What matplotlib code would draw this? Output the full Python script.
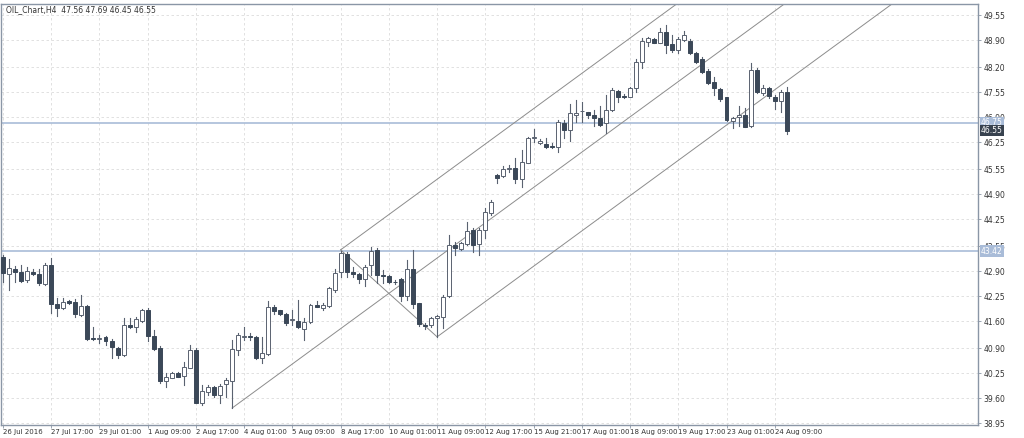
import matplotlib
matplotlib.use("Agg")
import matplotlib.pyplot as plt
from matplotlib.patches import Rectangle

# Candles H4 (open, high, low, close)
opens = [43.26, 42.82, 42.95, 42.87, 42.67, 42.87, 42.82, 42.56, 43.06, 42.04,
         41.94, 42.12, 42.09, 41.76, 41.99, 41.16, 41.14, 41.19, 41.08, 40.90,
         40.72, 41.50, 41.45, 41.60, 41.89, 41.21, 40.90, 40.04, 40.12, 40.25,
         40.17, 40.38, 40.85, 39.47, 39.75, 39.89, 39.68, 39.96, 40.04, 40.85,
         41.19, 41.21, 41.19, 40.64, 40.74, 41.96, 41.88, 41.78, 41.63, 41.60,
         41.40, 41.58, 42.02, 41.94, 41.99, 42.41, 42.87, 43.34, 42.87, 42.82,
         42.69, 43.06, 43.45, 42.80, 42.77, 42.62, 42.69, 42.25, 42.95, 42.07,
         41.50, 41.50, 41.68, 41.71, 42.25, 43.58, 43.47, 43.60, 43.97, 43.60,
         43.97, 44.41, 45.40, 45.37, 45.55, 45.58, 45.29, 45.71, 46.35, 46.22,
         46.20, 46.15, 46.12, 46.74, 46.56, 46.95, 47.05, 47.03, 46.95, 46.87,
         46.74, 47.08, 47.58, 47.44, 47.42, 47.65, 48.33, 48.85, 48.93, 48.83,
         49.11, 48.80, 48.64, 48.90, 48.87, 48.56, 48.41, 48.10, 47.81, 47.63,
         47.42, 46.80, 46.90, 46.95, 46.66, 48.12, 47.52, 47.65, 47.42, 47.31,
         47.56]
highs = [43.32, 43.21, 43.03, 43.06, 43.00, 42.95, 42.95, 43.11, 43.24, 42.20,
         42.20, 42.15, 42.17, 42.28, 42.02, 41.45, 41.24, 41.21, 41.13, 40.93,
         41.68, 41.68, 41.71, 41.91, 41.94, 41.37, 40.95, 40.25, 40.28, 40.28,
         40.54, 40.98, 40.90, 39.94, 39.94, 39.91, 39.96, 40.12, 41.11, 41.29,
         41.45, 41.29, 41.21, 41.19, 42.12, 42.02, 41.88, 41.81, 41.88, 42.15,
         41.68, 42.04, 42.12, 42.07, 42.48, 42.95, 43.42, 43.39, 43.00, 42.85,
         43.06, 43.52, 43.50, 42.93, 42.80, 42.67, 42.72, 43.19, 43.45, 42.07,
         41.55, 41.71, 41.76, 42.28, 43.84, 43.65, 43.65, 44.17, 44.02, 44.02,
         44.54, 44.74, 45.42, 45.63, 45.65, 45.84, 46.04, 46.38, 46.59, 46.33,
         46.35, 46.22, 46.82, 46.82, 47.24, 47.34, 47.29, 47.03, 47.08, 47.19,
         47.47, 47.65, 47.60, 47.50, 47.68, 48.41, 48.95, 48.98, 48.95, 49.21,
         49.29, 49.03, 48.98, 49.13, 48.93, 48.59, 48.46, 48.15, 47.94, 47.65,
         47.42, 46.90, 47.19, 47.13, 48.30, 48.17, 47.73, 47.68, 47.47, 47.60,
         47.69]
lows = [42.61, 42.41, 42.61, 42.61, 42.61, 42.80, 42.54, 42.54, 41.81, 41.73,
        41.91, 42.05, 41.71, 41.73, 41.11, 41.11, 41.03, 40.98, 40.64, 40.64,
        40.69, 41.42, 41.32, 41.58, 41.08, 40.85, 39.99, 39.89, 40.12, 40.15,
        39.94, 40.38, 39.47, 39.42, 39.68, 39.63, 39.47, 39.63, 39.34, 40.72,
        41.11, 41.11, 40.61, 40.51, 40.72, 41.78, 41.76, 41.50, 41.50, 41.42,
        41.11, 41.55, 41.96, 41.88, 41.96, 42.36, 42.74, 42.74, 42.74, 42.59,
        42.51, 42.80, 42.59, 42.59, 42.59, 42.56, 42.12, 42.15, 41.94, 41.47,
        41.39, 41.45, 41.19, 41.42, 42.23, 43.32, 43.45, 43.58, 43.39, 43.32,
        43.76, 44.35, 45.19, 45.34, 45.47, 45.19, 45.08, 45.71, 46.25, 46.20,
        46.09, 46.09, 45.99, 46.35, 46.28, 46.77, 46.77, 46.87, 46.66, 46.66,
        46.48, 47.05, 47.29, 47.39, 47.44, 47.55, 48.17, 48.75, 48.83, 48.83,
        48.56, 48.59, 48.56, 48.87, 48.54, 48.30, 48.04, 47.76, 47.47, 47.31,
        46.80, 46.61, 46.66, 46.64, 46.64, 47.52, 47.47, 47.39, 47.11, 47.03,
        46.45]
closes = [42.85, 42.98, 42.87, 42.64, 42.90, 42.82, 42.59, 43.06, 42.04, 41.94,
          42.09, 42.07, 41.78, 41.99, 41.13, 41.13, 41.16, 41.08, 40.93, 40.72,
          41.50, 41.45, 41.65, 41.89, 41.21, 40.87, 40.04, 40.15, 40.25, 40.15,
          40.41, 40.85, 39.47, 39.78, 39.89, 39.68, 39.91, 40.07, 40.87, 41.24,
          41.21, 41.19, 40.64, 40.77, 41.96, 41.86, 41.78, 41.55, 41.65, 41.45,
          41.58, 42.02, 41.96, 42.02, 42.46, 42.85, 43.37, 42.87, 42.82, 42.69,
          43.00, 43.42, 42.80, 42.77, 42.61, 42.61, 42.25, 42.95, 42.04, 41.52,
          41.47, 41.68, 41.73, 42.23, 43.58, 43.50, 43.63, 43.94, 43.58, 43.97,
          44.43, 44.69, 45.32, 45.55, 45.58, 45.29, 45.73, 46.35, 46.38, 46.28,
          46.12, 46.12, 46.77, 46.56, 47.00, 47.00, 47.05, 46.95, 46.87, 46.69,
          47.08, 47.60, 47.42, 47.42, 47.65, 48.33, 48.87, 48.95, 48.83, 49.11,
          48.77, 48.64, 48.93, 49.03, 48.56, 48.33, 48.07, 47.78, 47.65, 47.37,
          46.82, 46.87, 46.95, 46.64, 48.12, 47.55, 47.65, 47.44, 47.31, 47.55,
          46.55]

date_labels = ["26 Jul 2016", "27 Jul 17:00", "29 Jul 01:00", "1 Aug 09:00",
               "2 Aug 17:00", "4 Aug 01:00", "5 Aug 09:00", "8 Aug 17:00",
               "10 Aug 01:00", "11 Aug 09:00", "12 Aug 17:00", "15 Aug 21:00",
               "17 Aug 01:00", "18 Aug 09:00", "19 Aug 17:00", "23 Aug 01:00",
               "24 Aug 09:00"]
y_ticks = [49.55, 48.90, 48.20, 47.55, 46.90, 46.25, 45.55, 44.90, 44.25,
           43.55, 42.90, 42.25, 41.60, 40.90, 40.25, 39.60, 38.95]
h_levels = [46.75, 43.42]
# pitchfork anchor points (bar index, price)
fork_a = (38, 39.34)
fork_b = (56, 43.45)
fork_c = (72, 41.19)

BEAR = "#3b4858"
EDGE = "#5a6270"
LVL = "#a9bcd8"
FORK = "#8c8c8c"

fig = plt.figure(figsize=(10.24, 4.38), dpi=100)
ax = fig.add_axes([0.001, 0.0297, 0.954, 0.961])

for i in range(len(opens)):
    o, h, l, c = opens[i], highs[i], lows[i], closes[i]
    ax.plot([i, i], [l, h], color=EDGE, lw=0.8, zorder=3)
    bot, top = min(o, c), max(o, c)
    hgt = max(top - bot, 0.015)
    face = "white" if c >= o else BEAR
    ax.add_patch(Rectangle((i - 0.33, bot), 0.66, hgt, facecolor=face,
                           edgecolor=EDGE if c >= o else BEAR, lw=0.7, zorder=4))

for lv in h_levels:
    ax.axhline(lv, color=LVL, lw=1.2, zorder=2)

# Andrews pitchfork
mid = ((fork_b[0] + fork_c[0]) / 2, (fork_b[1] + fork_c[1]) / 2)
slope = (mid[1] - fork_a[1]) / (mid[0] - fork_a[0])
xe = 170
for (x0, y0) in [fork_a, fork_b, fork_c]:
    ax.plot([x0, xe], [y0, y0 + slope * (xe - x0)], color=FORK, lw=0.7, zorder=2)
ax.plot([fork_b[0], fork_c[0]], [fork_b[1], fork_c[1]], color=FORK, lw=0.7, zorder=2)

ax.set_xlim(-0.33, 161.7)
ax.set_ylim(38.90, 49.835)

xt = [8 * k for k in range(len(date_labels))]
ax.set_xticks(xt)
ax.set_xticklabels(date_labels, fontsize=5, color="#333333", ha="left")
ax.set_yticks(y_ticks)
ax.set_yticklabels([f"{v:.2f}" for v in y_ticks], fontsize=5.5, color="#333333")
ax.yaxis.tick_right()
ax.tick_params(axis="both", length=2.5, width=0.6, color="#8a96a6", pad=1.5)
ax.tick_params(axis="x", pad=0.8, length=2)
ax.grid(True, color="#dcdcdc", ls=(0, (3, 3)), lw=0.6)
ax.set_axisbelow(True)
for s in ax.spines.values():
    s.set_color("#8a96a6")
    s.set_linewidth(1.0)

# price labels on the right
def tag(v, txt, bg):
    ax.text(1.003, v, txt, transform=ax.get_yaxis_transform(), fontsize=5.5,
            color="white", va="center", ha="left", zorder=10,
            bbox=dict(boxstyle="square,pad=0.15", fc=bg, ec="none"))

tag(h_levels[0], f"{h_levels[0]:.2f}", LVL)
tag(h_levels[1], f"{h_levels[1]:.2f}", LVL)
tag(closes[-1], f"{closes[-1]:.2f}", "#38424f")

fig.text(0.006, 0.978, "OIL_Chart,H4  %.2f %.2f %.2f %.2f" %
         (opens[-1], highs[-1], lows[-1], closes[-1]),
         fontsize=5.5, color="#333333", va="center")

fig.savefig("out.png", dpi=100)
